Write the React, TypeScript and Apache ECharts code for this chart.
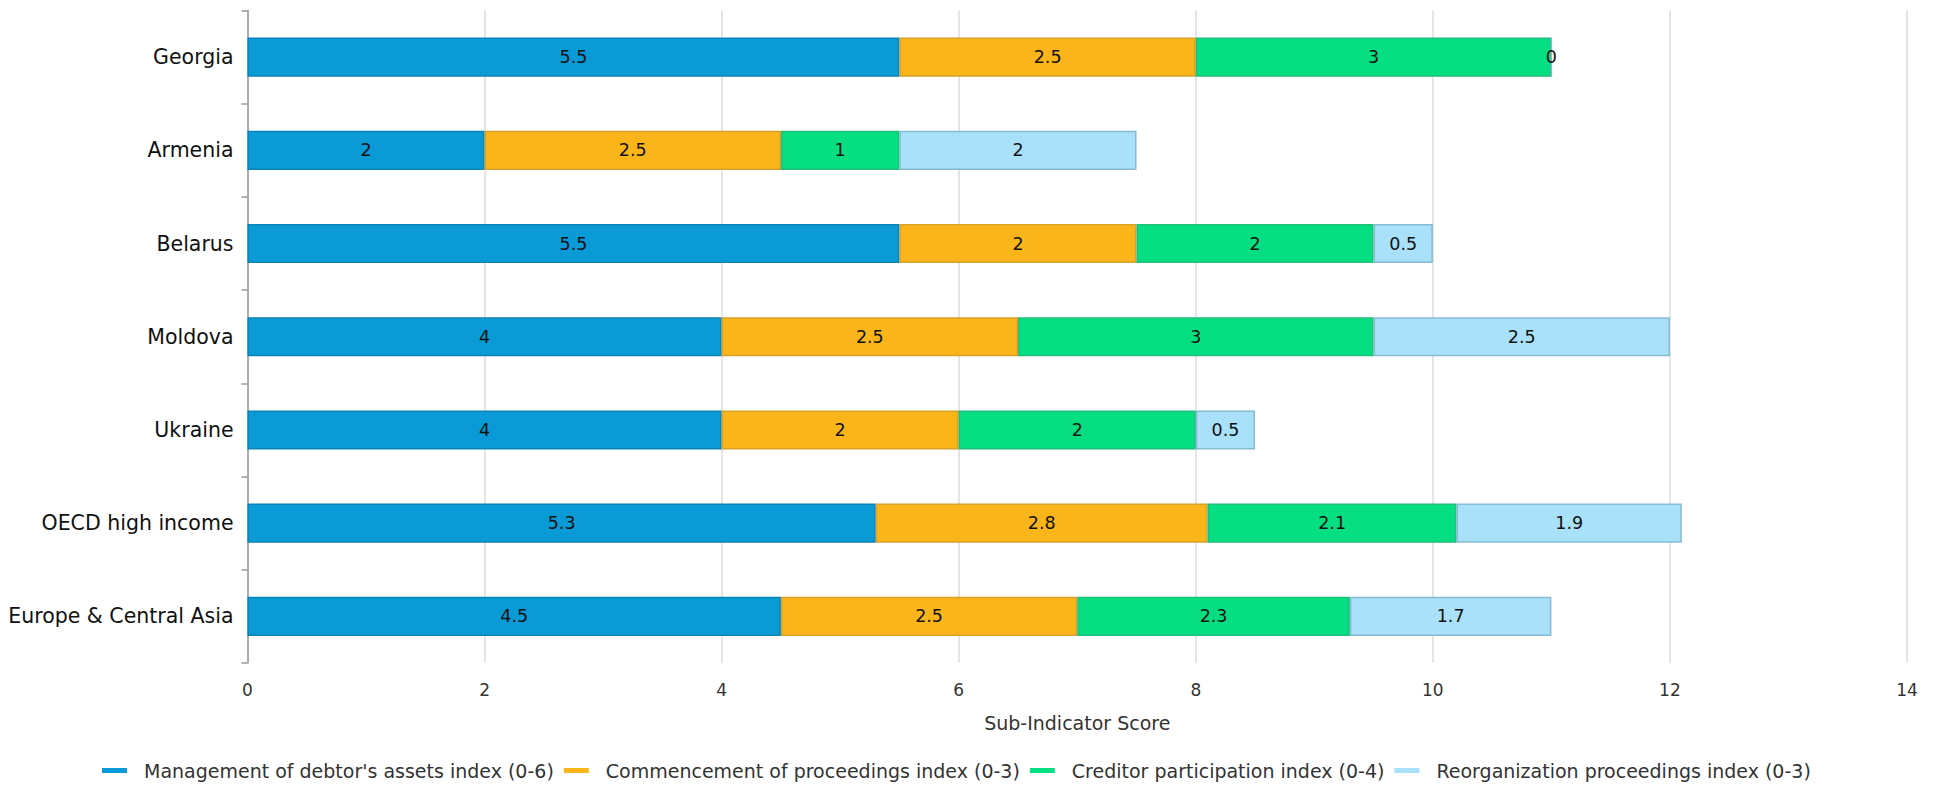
import React, { useEffect, useRef } from "react";
import * as echarts from "echarts";

const categories = ["Georgia", "Armenia", "Belarus", "Moldova", "Ukraine", "OECD high income", "Europe & Central Asia"];
const seriesNames = [
  "Management of debtor's assets index (0-6)",
  "Commencement of proceedings index (0-3)",
  "Creditor participation index (0-4)",
  "Reorganization proceedings index (0-3)",
];
const management = [5.5, 2, 5.5, 4, 4, 5.3, 4.5];
const commencement = [2.5, 2.5, 2, 2.5, 2, 2.8, 2.5];
const creditor = [3, 1, 2, 3, 2, 2.1, 2.3];
const reorganization = [0, 2, 0.5, 2.5, 0.5, 1.9, 1.7];
const xTicks = [0, 2, 4, 6, 8, 10, 12, 14];

const colors = ["#0A9AD6", "#FAB51B", "#06DF81", "#A8E1F9"];
const borders = ["#0A84B8", "#D9A02A", "#1FBE7C", "#86BBD3"];

const FONT = "DejaVu Sans";

export default function App() {
  const ref = useRef<HTMLDivElement>(null);
  useEffect(() => {
    document.body.style.margin = "0";
    if (!ref.current) return;
    const chart = echarts.init(ref.current, null, { renderer: "svg" });
    const values = [management, commencement, creditor, reorganization];
    chart.setOption({
      animation: false,
      textStyle: { fontFamily: FONT },
      grid: { left: 247.5, right: 38, top: 10.5, bottom: 122, containLabel: false },
      legend: {
        top: 756,
        left: 97,
        itemWidth: 25,
        itemHeight: 5,
        itemGap: 10,
        icon: "rect",
        itemStyle: { borderWidth: 0 },
        textStyle: { fontFamily: FONT, fontSize: 19, color: "#333", padding: [0, 0, 0, 12] },
        data: seriesNames,
      },
      xAxis: {
        type: "value",
        min: 0,
        max: 14,
        interval: 2,
        name: "Sub-Indicator Score",
        nameLocation: "middle",
        nameGap: 50,
        nameTextStyle: { fontFamily: FONT, fontSize: 19, color: "#333" },
        axisLine: { show: false },
        axisTick: { show: false },
        axisLabel: {
          fontFamily: FONT,
          fontSize: 17,
          color: "#333",
          margin: 18,
          formatter: (v: number) => (xTicks.includes(v) ? String(v) : ""),
        },
        splitLine: { show: true, lineStyle: { color: "#DDDDDD", width: 1.5 } },
      },
      yAxis: {
        type: "category",
        inverse: true,
        data: categories,
        axisLine: { show: true, lineStyle: { color: "#999", width: 1.5 } },
        axisTick: { show: true, length: 6, inside: false, lineStyle: { color: "#999", width: 1.5 } },
        axisLabel: { fontFamily: FONT, fontSize: 20.5, color: "#111", margin: 14 },
        splitLine: { show: false },
      },
      series: seriesNames.map((name, i) => ({
        name,
        type: "bar",
        stack: "total",
        barWidth: "42%",
        data: values[i],
        itemStyle: { color: colors[i], borderColor: borders[i], borderWidth: 1.5 },
        label: {
          show: true,
          position: "inside",
          fontFamily: FONT,
          fontSize: 17.5,
          color: "#111",
          formatter: (p: any) => String(p.value),
        },
      })),
    });
    return () => chart.dispose();
  }, []);
  return <div ref={ref} style={{ width: 1945, height: 785 }} />;
}
